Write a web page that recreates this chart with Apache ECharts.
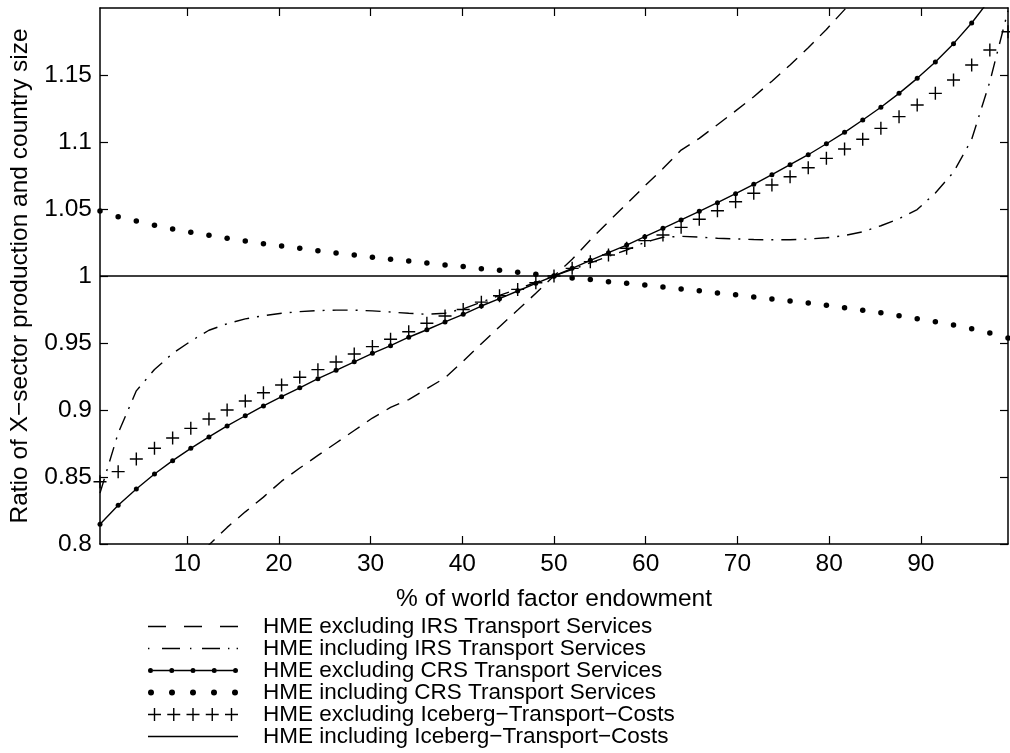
<!DOCTYPE html>
<html><head><meta charset="utf-8">
<script src="https://cdn.jsdelivr.net/npm/echarts@6/dist/echarts.min.js"></script>
<style>html,body{margin:0;padding:0;background:#fff}#c{width:1010px;height:753px}</style>
</head><body><div id="c"></div>
<script>
// ---- data ----
const xValues = [0.5, 2.48, 4.46, 6.44, 8.42, 10.4, 12.38, 14.36, 16.34, 18.32, 20.3, 22.28, 24.26, 26.24, 28.22, 30.2, 32.18, 34.16, 36.14, 38.12, 40.1, 42.08, 44.06, 46.04, 48.02, 50.0, 51.98, 53.96, 55.94, 57.92, 59.9, 61.88, 63.86, 65.84, 67.82, 69.8, 71.78, 73.76, 75.74, 77.72, 79.7, 81.68, 83.66, 85.64, 87.62, 89.6, 91.58, 93.56, 95.54, 97.52, 99.5];

const irsExcl = [0.705, 0.725, 0.742, 0.757, 0.772, 0.786,
  0.7993, 0.8124, 0.8240, 0.8350, 0.8469, 0.8567, 0.8661, 0.8754, 0.8847, 0.8940, 0.9019,
  0.9078, 0.9159, 0.9240, 0.9365, 0.9495, 0.9622, 0.9746, 0.9871,
  1.0000,
  1.0125, 1.0269, 1.0405, 1.0538, 1.0672, 1.0802, 1.0940, 1.1027,
  1.1129, 1.1232, 1.1338, 1.1454, 1.1575, 1.1703, 1.1840, 1.1988, 1.2135, 1.2290,
  1.251, 1.272, 1.295, 1.321, 1.348, 1.379, 1.418];

const irsIncl = [0.838, 0.8827, 0.9143, 0.9302, 0.9422, 0.9514, 0.9595, 0.9644, 0.9680, 0.9704, 0.9722, 0.9734, 0.9742, 0.9745, 0.9745, 0.9740, 0.9731,
  0.9722, 0.9714, 0.9722, 0.9755, 0.9805, 0.9855, 0.9903, 0.9952, 1.0000, 1.0048, 1.0098, 1.0147, 1.0194, 1.0251, 1.0289, 1.0296, 1.0290,
  1.0282, 1.0277, 1.0272, 1.0270, 1.0271, 1.0276, 1.0285, 1.0302, 1.0330, 1.0375, 1.0428, 1.0496, 1.0620, 1.0774, 1.1020, 1.1450, 1.1980];

const crsExcl = [0.8147, 0.8289, 0.8410, 0.8522, 0.8622, 0.8714, 0.8799, 0.8881, 0.8957, 0.9030, 0.9099, 0.9166, 0.9234, 0.9296, 0.9360, 0.9423, 0.9480,
  0.9543, 0.9599, 0.9657, 0.9714, 0.9776, 0.9831, 0.9888, 0.9945, 1.0000, 1.0057, 1.0117, 1.0174, 1.0231, 1.0293, 1.0356, 1.0418, 1.0483,
  1.0547, 1.0614, 1.0684, 1.0756, 1.0831, 1.0905, 1.0987, 1.1072, 1.1164, 1.1259, 1.1363, 1.1475, 1.1597, 1.1734, 1.1888, 1.2064, 1.2275];

const crsIncl = [1.0485, 1.0443, 1.0410, 1.0378, 1.0351, 1.0326, 1.0304, 1.0281, 1.0261, 1.0241, 1.0224, 1.0207, 1.0189, 1.0172, 1.0157, 1.0140, 1.0125,
  1.0112, 1.0097, 1.0082, 1.0070, 1.0054, 1.0042, 1.0028, 1.0013, 1.0000, 0.9985, 0.9973, 0.9958, 0.9945, 0.9933, 0.9918, 0.9903, 0.9890,
  0.9873, 0.9860, 0.9843, 0.9828, 0.9813, 0.9799, 0.9781, 0.9763, 0.9744, 0.9726, 0.9704, 0.9681, 0.9659, 0.9634, 0.9607, 0.9575, 0.9537];

const icebergExcl = [0.8465, 0.8540, 0.8634, 0.8714, 0.8791, 0.8863, 0.8933, 0.9000, 0.9067, 0.9129, 0.9187, 0.9244, 0.9301, 0.9358, 0.9418, 0.9473, 0.9528,
  0.9584, 0.9647, 0.9701, 0.9750, 0.9805, 0.9853, 0.9900, 0.9950, 1.0000, 1.0057, 1.0107, 1.0157, 1.0207, 1.0264, 1.0306, 1.0363, 1.0423,
  1.0487, 1.0554, 1.0617, 1.0679, 1.0741, 1.0808, 1.0878, 1.0948, 1.1020, 1.1102, 1.1189, 1.1276, 1.1363, 1.1463, 1.1575, 1.1687, 1.1823];

const icebergIncl = [1, 1, 1, 1, 1, 1, 1, 1, 1, 1, 1, 1, 1, 1, 1, 1, 1,
  1, 1, 1, 1, 1, 1, 1, 1, 1, 1, 1, 1, 1, 1, 1, 1, 1,
  1, 1, 1, 1, 1, 1, 1, 1, 1, 1, 1, 1, 1, 1, 1, 1, 1];

const xTicks = [10, 20, 30, 40, 50, 60, 70, 80, 90];
const yTicks = [0.8, 0.85, 0.9, 0.95, 1, 1.05, 1.1, 1.15];

const seriesNames = [
  'HME excluding IRS Transport Services',
  'HME including IRS Transport Services',
  'HME excluding CRS Transport Services',
  'HME including CRS Transport Services',
  'HME excluding Iceberg\u2212Transport\u2212Costs',
  'HME including Iceberg\u2212Transport\u2212Costs'
];
const xTitle = '% of world factor endowment';
const yTitle = 'Ratio of X\u2212sector production and country size';

// ---- styling helpers ----
const FONT = '"Liberation Sans", Arial, Helvetica, sans-serif';
const BLACK = '#000';
function pairs(ys) { return xValues.map((x, i) => [x, ys[i]]); }

function rect(x0, y0, x1, y1) { return 'M' + x0 + ' ' + y0 + 'H' + x1 + 'V' + y1 + 'H' + x0 + 'Z'; }
function circ(cx, cy, r) { return 'M' + (cx - r) + ' ' + cy + 'a' + r + ' ' + r + ' 0 1 0 ' + (2 * r) + ' 0a' + r + ' ' + r + ' 0 1 0 ' + (-2 * r) + ' 0Z'; }
function crossPath(cx, s, w) { return rect(cx - s / 2, s / 2 - w / 2, cx + s / 2, s / 2 + w / 2) + rect(cx - w / 2, 0, cx + w / 2, s); }

const LW = 1.4;
const legendIcons = [
  'path://' + rect(0, 0, 18, LW) + rect(36, 0, 54, LW) + rect(72, 0, 90, LW),
  'path://' + rect(0, 0, 1.4, LW) + rect(14, 0, 32, LW) + rect(42, 0, 43.4, LW) + rect(54, 0, 72, LW) + rect(80, 0, 81.4, LW) + rect(88.6, 0, 90, LW),
  'path://' + circ(2.5, 2.5, 2.5) + rect(5, 1.8, 21.25, 3.2) + circ(23.75, 2.5, 2.5) + rect(26.25, 1.8, 42.5, 3.2) + circ(45, 2.5, 2.5) + rect(47.5, 1.8, 63.75, 3.2) + circ(66.25, 2.5, 2.5) + rect(68.75, 1.8, 85, 3.2) + circ(87.5, 2.5, 2.5),
  'path://' + circ(3, 3, 3) + circ(24, 3, 3) + circ(45, 3, 3) + circ(66, 3, 3) + circ(87, 3, 3),
  'path://' + crossPath(6.5, 13, 1.4) + crossPath(25.75, 13, 1.4) + crossPath(45, 13, 1.4) + crossPath(64.25, 13, 1.4) + crossPath(83.5, 13, 1.4),
  'path://' + rect(0, 0, 90, LW)
];
const legendHeights = [LW, LW, 5, 6, 13, LW];
const legendRowTop = 615, legendRowStep = 22;

const crossSymbol = 'path://' + crossPath(6.5, 13, 1.4);

const axisLineStyle = { color: BLACK, width: 1.5 };
const tickStyle = { color: BLACK, width: 1.2 };
const labelStyle = { color: BLACK, fontSize: 24.5, fontFamily: FONT };

const option = {
  animation: false,
  backgroundColor: '#fff',
  color: [BLACK],
  grid: { left: 100, right: 2, top: 8, bottom: 209, containLabel: false },
  xAxis: [
    {
      type: 'value', min: 0.5, max: 99.5, position: 'bottom',
      axisLine: { show: true, onZero: false, lineStyle: axisLineStyle },
      axisTick: { show: true, inside: true, length: 8, customValues: xTicks, lineStyle: tickStyle },
      axisLabel: Object.assign({ customValues: xTicks, margin: 8 }, labelStyle),
      splitLine: { show: false },
      name: xTitle, nameLocation: 'middle', nameGap: 43,
      nameTextStyle: labelStyle
    },
    {
      type: 'value', min: 0.5, max: 99.5, position: 'top',
      axisLine: { show: true, onZero: false, lineStyle: axisLineStyle },
      axisTick: { show: true, inside: true, length: 8, customValues: xTicks, lineStyle: tickStyle },
      axisLabel: { show: false },
      splitLine: { show: false }
    }
  ],
  yAxis: [
    {
      type: 'value', min: 0.8, max: 1.2, position: 'left',
      axisLine: { show: true, onZero: false, lineStyle: axisLineStyle },
      axisTick: { show: true, inside: true, length: 8, customValues: yTicks, lineStyle: tickStyle },
      axisLabel: Object.assign({ customValues: yTicks, margin: 8 }, labelStyle),
      splitLine: { show: false },
      name: yTitle, nameLocation: 'middle', nameGap: 67,
      nameTextStyle: labelStyle
    },
    {
      type: 'value', min: 0.8, max: 1.2, position: 'right',
      axisLine: { show: true, onZero: false, lineStyle: axisLineStyle },
      axisTick: { show: true, inside: true, length: 8, customValues: yTicks, lineStyle: tickStyle },
      axisLabel: { show: false },
      splitLine: { show: false }
    }
  ],
  legend: seriesNames.map((name, i) => ({
    data: [{ name: name, icon: legendIcons[i] }],
    orient: 'vertical',
    left: 148,
    top: legendRowTop + i * legendRowStep,
    padding: 0,
    itemWidth: 90,
    itemHeight: legendHeights[i],
    selectedMode: false,
    itemStyle: { color: BLACK, borderWidth: 0 },
    textStyle: { color: BLACK, fontSize: 22.5, fontFamily: FONT, lineHeight: 22, padding: [0, 0, 0, 20] }
  })),
  series: [
    {
      name: seriesNames[0], type: 'line', data: pairs(irsExcl), symbol: 'none',
      lineStyle: { color: BLACK, width: LW, type: [14, 9] }, itemStyle: { color: BLACK, borderWidth: 0 }, z: 3
    },
    {
      name: seriesNames[1], type: 'line', data: pairs(irsIncl), symbol: 'none',
      lineStyle: { color: BLACK, width: LW, type: [15, 8, 2, 8] }, itemStyle: { color: BLACK, borderWidth: 0 }, z: 3
    },
    {
      name: seriesNames[2], type: 'line', data: pairs(crsExcl), symbol: 'circle', symbolSize: 5,
      showSymbol: true, showAllSymbol: true,
      lineStyle: { color: BLACK, width: LW }, itemStyle: { color: BLACK, borderWidth: 0 }, z: 4
    },
    {
      name: seriesNames[3], type: 'scatter', data: pairs(crsIncl), symbol: 'circle', symbolSize: 5.5,
      itemStyle: { color: BLACK, borderWidth: 0, opacity: 1 }, z: 4
    },
    {
      name: seriesNames[4], type: 'scatter', data: pairs(icebergExcl), symbol: crossSymbol, symbolSize: 13,
      itemStyle: { color: BLACK, borderWidth: 0, opacity: 1 }, z: 4
    },
    {
      name: seriesNames[5], type: 'line', data: pairs(icebergIncl), symbol: 'none',
      lineStyle: { color: BLACK, width: LW }, itemStyle: { color: BLACK, borderWidth: 0 }, z: 3
    }
  ]
};

const chart = echarts.init(document.getElementById('c'), null, { renderer: 'canvas' });
chart.setOption(option);
</script>
</body></html>
